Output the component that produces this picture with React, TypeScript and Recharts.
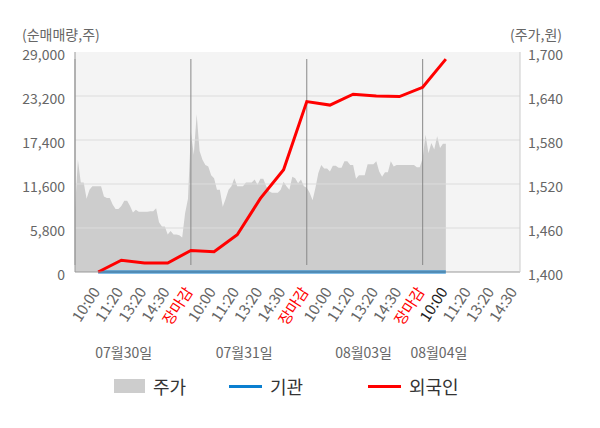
import React from 'react';
import {
  ComposedChart,
  Area,
  Line,
  XAxis,
  YAxis,
  CartesianGrid,
  ReferenceLine,
} from 'recharts';

const FONT = '"Noto Sans CJK KR", "Noto Sans", sans-serif';

// 주가 (원): intraday samples, one list per trading day, every 1/8 tick slot
const priceStep = 0.125;
const dayStarts = [0, 5, 10, 15];
const priceDay1 = [
  1485, 1553, 1522, 1522, 1500, 1512, 1517, 1517, 1517, 1517,
  1503, 1501, 1501, 1492, 1486, 1486, 1490, 1497, 1497, 1490,
  1481, 1485, 1482, 1482, 1482, 1482, 1483, 1483, 1487, 1468,
  1462, 1462, 1451, 1456, 1451, 1451, 1450, 1447, 1480, 1500,
];
const priceDay2 = [
  1591, 1560, 1615, 1565, 1553, 1546, 1544, 1532, 1528, 1512,
  1512, 1489, 1500, 1512, 1517, 1528, 1517, 1517, 1517, 1522,
  1522, 1522, 1526, 1519, 1527, 1527, 1517, 1510, 1508, 1508,
  1508, 1512, 1523, 1517, 1512, 1530, 1528, 1521, 1526, 1517,
];
const priceDay3 = [
  1515, 1508, 1498, 1515, 1535, 1546, 1541, 1541, 1537, 1545,
  1545, 1542, 1542, 1551, 1551, 1546, 1546, 1527, 1532, 1532,
  1532, 1547, 1547, 1547, 1551, 1537, 1530, 1536, 1536, 1551,
  1544, 1546, 1546, 1546, 1546, 1546, 1546, 1546, 1543, 1543,
];
const priceDay4 = [1555, 1587, 1562, 1576, 1567, 1585, 1569, 1575, 1575];

// 순매매량 (주), cumulative, one value per tick slot
const flowSlots = [1, 2, 3, 4, 5, 6, 7, 8, 9, 10, 11, 12, 13, 14, 15, 16];
const foreignNet = [
  0, 1550, 1200, 1190, 2840, 2670, 4910, 9700,
  13470, 22460, 22000, 23430, 23210, 23120, 24350, 28060,
];
const institutionNet = [0, 0, 0, 0, 0, 0, 0, 0, 0, 0, 0, 0, 0, 0, 0, 0];

const timeTicks = [1, 2, 3, 4, 5, 6, 7, 8, 9, 10, 11, 12, 13, 14, 15, 16, 17, 18, 19];
const timeLabels = [
  '10:00', '11:20', '13:20', '14:30', '장마감',
  '10:00', '11:20', '13:20', '14:30', '장마감',
  '10:00', '11:20', '13:20', '14:30', '장마감',
  '10:00', '11:20', '13:20', '14:30',
];
const dateTicks = [2.1, 7.3, 12.45, 15.7];
const dateLabels = ['07월30일', '07월31일', '08월03일', '08월04일'];
const volTicks = [0, 5800, 11600, 17400, 23200, 29000];
const priceTicks = [1400, 1460, 1520, 1580, 1640, 1700];
const dayBreaks = [5, 10, 15];
const todayIndex = 15;

const priceData = [priceDay1, priceDay2, priceDay3, priceDay4].flatMap((day, d) =>
  day.map((price, i) => ({ t: dayStarts[d] + i * priceStep, price }))
);
const flowData = flowSlots.map((t, i) => ({
  t,
  foreign: foreignNet[i],
  inst: institutionNet[i],
}));

const fmt = (v: number) => v.toLocaleString('en-US');

function TimeTick(props: any) {
  const { x, y, payload } = props;
  const i = timeTicks.indexOf(payload.value);
  const label = timeLabels[i];
  const color = label === '장마감' ? '#ff0000' : i === todayIndex ? '#222' : '#666';
  return (
    <g transform={`translate(${x},${y})`}>
      <text x={0} y={0} dy={3} textAnchor="end" transform="rotate(-57)" fill={color} fontSize={15}>
        {label}
      </text>
    </g>
  );
}

// vertical line that pokes a few px past the plot top and bottom
const longLine = (color: string) => (p: any) => (
  <line x1={p.x1} y1={p.y1 - 7} x2={p.x2} y2={p.y2 + 7} stroke={color} strokeWidth={1} />
);

function LegendItem({ kind, color, name, left }: { kind: string; color: string; name: string; left: number }) {
  return (
    <div style={{ position: 'absolute', left, top: 377, height: 18, display: 'flex', alignItems: 'center' }}>
      {kind === 'box' ? (
        <span style={{ display: 'inline-block', width: 31, height: 14, background: color }} />
      ) : (
        <span style={{ display: 'inline-block', width: 33, height: 3, background: color }} />
      )}
      <span style={{ marginLeft: 8, fontSize: 18, lineHeight: '18px', color: '#333' }}>{name}</span>
    </div>
  );
}

export default function App() {
  return (
    <div style={{ position: 'absolute', left: 0, top: 0, width: 600, height: 428, background: '#fff', fontFamily: FONT }}>
      <div style={{ position: 'absolute', left: 22, top: 26, fontSize: 14, lineHeight: '16px', color: '#666' }}>
        (순매매량,주)
      </div>
      <div style={{ position: 'absolute', right: 38, top: 26, fontSize: 14, lineHeight: '16px', color: '#666', textAlign: 'right' }}>
        (주가,원)
      </div>
      <ComposedChart width={600} height={428} margin={{ top: 52, right: 20, left: 15, bottom: 91 }}>
        <CartesianGrid fill="#f4f4f4" horizontal={false} vertical={false} xAxisId="time" yAxisId="vol" />
        <XAxis
          xAxisId="time"
          type="number"
          dataKey="t"
          domain={[0, 19.2]}
          ticks={timeTicks}
          interval={0}
          tick={<TimeTick />}
          tickLine={false}
          tickSize={0}
          tickMargin={18}
          axisLine={{ stroke: '#999' }}
          height={65}
          allowDataOverflow
        />
        <YAxis
          yAxisId="vol"
          orientation="left"
          width={60}
          domain={[0, 29000]}
          ticks={volTicks}
          interval={0}
          tickFormatter={fmt}
          tick={{ fill: '#666', fontSize: 14, dy: 3 }}
          tickLine={false}
          tickSize={0}
          tickMargin={10}
          axisLine={{ stroke: '#999' }}
        />
        <YAxis
          yAxisId="price"
          orientation="right"
          width={60}
          domain={[1400, 1700]}
          ticks={priceTicks}
          interval={0}
          tickFormatter={fmt}
          tick={{ fill: '#666', fontSize: 14, dy: 3 }}
          tickLine={false}
          tickSize={0}
          tickMargin={8}
          axisLine={{ stroke: '#ccc' }}
        />
        <Area
          xAxisId="time"
          yAxisId="price"
          data={priceData}
          dataKey="price"
          type="linear"
          stroke="none"
          fill="#cdcdcd"
          fillOpacity={1}
          isAnimationActive={false}
        />
        {volTicks.slice(1, -1).map((v) => (
          <ReferenceLine key={v} xAxisId="time" yAxisId="vol" y={v} stroke="#dcdcdc" />
        ))}
        <ReferenceLine xAxisId="time" yAxisId="vol" x={0} shape={longLine('#999')} />
        {dayBreaks.map((b) => (
          <ReferenceLine key={b} xAxisId="time" yAxisId="vol" x={b} shape={longLine('#888')} />
        ))}
        {dateTicks.map((d, i) => (
          <ReferenceLine
            key={`d${d}`}
            xAxisId="time"
            yAxisId="vol"
            x={d}
            stroke="none"
            label={{ value: dateLabels[i], position: 'bottom', offset: 76, fill: '#666', fontSize: 14 }}
          />
        ))}
        <Line
          xAxisId="time"
          yAxisId="vol"
          data={flowData}
          dataKey="inst"
          name="기관"
          stroke="#0a7fd0"
          strokeWidth={3}
          dot={false}
          isAnimationActive={false}
        />
        <Line
          xAxisId="time"
          yAxisId="vol"
          data={flowData}
          dataKey="foreign"
          name="외국인"
          stroke="#ff0000"
          strokeWidth={3}
          dot={false}
          isAnimationActive={false}
        />
      </ComposedChart>
      <LegendItem kind="box" color="#cdcdcd" name="주가" left={114} />
      <LegendItem kind="line" color="#0a7fd0" name="기관" left={229} />
      <LegendItem kind="line" color="#ff0000" name="외국인" left={368} />
    </div>
  );
}
